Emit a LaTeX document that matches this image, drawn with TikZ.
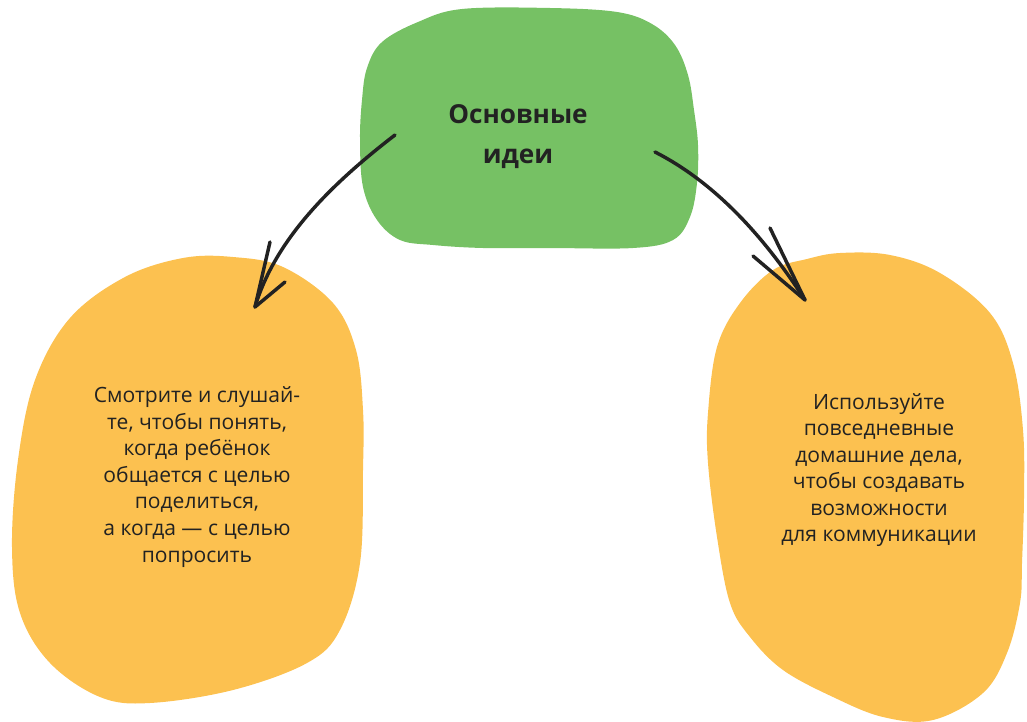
\documentclass[tikz,border=0pt]{standalone}
\usepackage{fontspec}
\setmainfont{Open Sans}
\tikzset{every picture/.style={line width=0.75pt}}
\definecolor{blobgreen}{RGB}{118,193,100}
\definecolor{blobyellow}{RGB}{252,193,80}
\definecolor{inkdark}{RGB}{34,34,34}
\tikzset{
  greenblob/.style={fill=blobgreen, draw=none},
  yellowblob/.style={fill=blobyellow, draw=none},
  stroke/.style={draw=inkdark, line width=2.6pt, line cap=round, line join=round},
  bodytext/.style={text=inkdark, align=center, font=\fontsize{15.8}{19.9}\selectfont},
  titletext/.style={text=inkdark, align=center, font=\bfseries\fontsize{19.6}{30}\selectfont}
}

\begin{document}
\begin{tikzpicture}[x=0.75pt,y=0.75pt,yscale=-1,xscale=1]
	\useasboundingbox (0,0) rectangle (1027,721);
	
	%Shape: Blob [id:green]
	\path[greenblob] plot[smooth cycle, tension=0.6] coordinates {(382,42) (418,22) (462,9) (550,8) (617,12) (652,24) (675,45) (688,75) (694,110) (698,145) (697,183) (690,217) (673,240) (633,248) (550,248) (483,248) (433,245) (400,240) (377,220) (363,187) (360,140) (362,100) (367,68)};
	%Shape: Blob [id:yellowleft]
	\path[yellowblob] plot[smooth cycle, tension=0.6] coordinates {(183,258) (233,257) (283,267) (333,303) (356,350) (363,410) (363,470) (360,563) (340,630) (307,663) (233,690) (150,703) (100,697) (50,663) (20,613) (12,547) (18,460) (35,380) (70,318) (125,277)};
	%Shape: Blob [id:yellowright]
	\path[yellowblob] plot[smooth cycle, tension=0.6] coordinates {(840,253) (890,255) (940,273) (990,313) (1013,363) (1023,430) (1024,497) (1022,563) (1020,603) (1007,653) (983,693) (933,720) (883,717) (833,697) (783,670) (750,637) (730,603) (717,537) (708,463) (708,413) (717,347) (740,303) (773,270) (807,259)};
	
	% Text Node
	\node[titletext] (title) at (518,137) {Основные\\идеи};
	% Text Node
	\node[bodytext] (leftidea) at (197,477) {Смотрите и слушай-\\те, чтобы понять,\\когда ребёнок\\общается с целью\\поделиться,\\а когда — с целью\\попросить};
	% Text Node
	\node[bodytext] (rightidea) at (879,470) {Используйте\\повседневные\\домашние дела,\\чтобы создавать\\возможности\\для коммуникации};
	
	%Arrow ends
	\coordinate (lstart) at (395,135);
	\coordinate (ltip) at (255,307);
	\coordinate (larmA) at (270,242);
	\coordinate (larmB) at (285,282);
	\coordinate (rstart) at (655,152);
	\coordinate (rtip) at (805,300);
	\coordinate (rarmA) at (770,228);
	\coordinate (rarmB) at (753,256);
	
	%Curve Lines [id:leftarrow]
	\draw[stroke] (lstart) .. controls (330,185) and (275,240) .. (ltip);
	\draw[stroke] (larmA) -- (ltip) -- (larmB);
	%Curve Lines [id:rightarrow]
	\draw[stroke] (rstart) .. controls (710,180) and (760,230) .. (rtip);
	\draw[stroke] (rarmA) -- (rtip) -- (rarmB);
	
\end{tikzpicture}
\end{document}
